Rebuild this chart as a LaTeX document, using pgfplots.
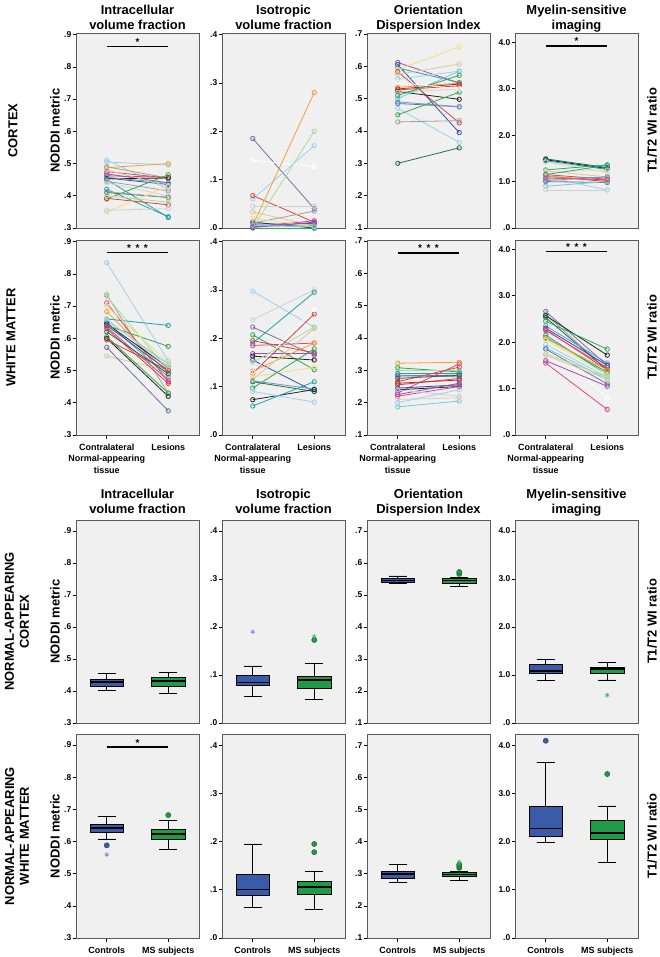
\documentclass[border=0pt]{standalone}
\usepackage{fontspec}
\setmainfont{Liberation Sans}
\usepackage{pgfplots}
\pgfplotsset{compat=1.18}
\usepgfplotslibrary{statistics}

\definecolor{bgg}{HTML}{F0F0F0}
\definecolor{frame}{HTML}{5A5A5A}
\definecolor{lb}{HTML}{9DCFEF}
\definecolor{or}{HTML}{F5A030}
\definecolor{gr}{HTML}{2EA84A}
\definecolor{rd}{HTML}{E0403A}
\definecolor{pu}{HTML}{9B4DB5}
\definecolor{db}{HTML}{2E4FA8}
\definecolor{te}{HTML}{20A0AA}
\definecolor{bk}{HTML}{222222}
\definecolor{gy}{HTML}{A0A0A0}
\definecolor{ye}{HTML}{F0E080}
\definecolor{lg}{HTML}{A9DBA0}
\definecolor{pk}{HTML}{E0458A}
\definecolor{tn}{HTML}{D8C8A0}
\definecolor{sl}{HTML}{7070A8}
\definecolor{dg}{HTML}{1E7040}
\definecolor{wh}{HTML}{FFFFFF}
\definecolor{lgy}{HTML}{D0D0D0}
\definecolor{cy}{HTML}{6FCBD8}
\definecolor{st}{HTML}{6A98C8}
\definecolor{br}{HTML}{B03030}
\definecolor{ol}{HTML}{A0A878}
\definecolor{ctrl}{HTML}{3A5BA8}
\definecolor{ms}{HTML}{1F9A47}
\definecolor{ctrlstar}{HTML}{6A8AD0}
\definecolor{msstar}{HTML}{40B060}

\newcommand{\tfont}{\fontsize{13}{15}\selectfont\bfseries}
\newcommand{\tickf}{\fontsize{8.5}{9}\selectfont\bfseries}
\newcommand{\xtf}{\fontsize{9}{11.5}\selectfont\bfseries}
\newcommand{\starf}{\fontsize{10}{10}\selectfont\bfseries}

% one subject: left value, right value
\newcommand{\pr}[3]{\addplot[#1, line width=0.8pt, mark=o, mark size=2.2bp, mark options={solid}] coordinates {(1,#2) (2,#3)};}
% box: position, colour, lower whisker, q1, median, q3, upper whisker
\newcommand{\bx}[7]{\addplot[boxplot/draw direction=y, boxplot prepared={draw position=#1, lower whisker=#3, lower quartile=#4, median=#5, upper quartile=#6, upper whisker=#7, box extend=0.55, whisker extend=0.3}, draw=black, fill=#2, line width=0.6pt] coordinates {};}
\newcommand{\oc}[3]{\addplot[only marks, mark=*, mark size=2.6bp, mark options={fill=#2, draw=#2!60!black}] coordinates {(#1,#3)};}
\newcommand{\os}[3]{\addplot[only marks, mark=asterisk, mark size=2.4bp, color=#2, line width=0.6pt] coordinates {(#1,#3)};}
% significance bar
\newcommand{\sig}[2]{\addplot[black, line width=1.6pt] coordinates {(1,#1) (2,#1)};
  \node[anchor=base, font=\starf, inner sep=0pt, yshift=1.2bp] at (axis cs:1.5,#1) {#2};}

\pgfplotsset{
  panel/.style={scale only axis, anchor=north west, width=123bp,
    xmin=0.5, xmax=2.5, clip=false,
    axis background/.style={fill=bgg},
    axis line style={draw=frame, line width=1pt},
    tick align=outside, xtick pos=left, ytick pos=left,
    major tick length=3.5bp, every tick/.style={black, line width=0.6pt},
    yticklabel style={font=\tickf, inner sep=1bp},
    xticklabel style={font=\xtf, align=center, inner sep=1bp, yshift=-4bp},
    boxplot/every median/.style={line width=1.6pt},
    xtick=\empty},
  ra/.style={panel, height=195bp},
  rb/.style={panel, height=204bp},
  c1/.style={ymin=0.3, ytick={0.3,0.4,0.5,0.6,0.7,0.8,0.9}, yticklabels={.3,.4,.5,.6,.7,.8,.9}},
  c2/.style={ymin=0, ytick={0,0.1,0.2,0.3,0.4}, yticklabels={.0,.1,.2,.3,.4}},
  c3/.style={ymin=0.1, ytick={0.1,0.2,0.3,0.4,0.5,0.6,0.7}, yticklabels={.1,.2,.3,.4,.5,.6,.7}},
  c4/.style={ymin=0, ytick={0,1,2,3,4}, yticklabels={.0,1.0,2.0,3.0,4.0}},
  xl/.style={xtick={1,2}, xticklabels={{Contralateral\\Normal-appearing\\tissue},Lesions}},
  xb/.style={xtick={1,2}, xticklabels={Controls,MS subjects}},
}

\begin{document}
\begin{tikzpicture}
\useasboundingbox (0,0) rectangle (660bp,-957bp);

% column titles
\foreach \yy/\zz in {14/29, 498/513} {
  \node[font=\tfont, anchor=base] at (137.5bp,-\yy bp) {Intracellular};
  \node[font=\tfont, anchor=base] at (137.5bp,-\zz bp) {volume fraction};
  \node[font=\tfont, anchor=base] at (283.5bp,-\yy bp) {Isotropic};
  \node[font=\tfont, anchor=base] at (283.5bp,-\zz bp) {volume fraction};
  \node[font=\tfont, anchor=base] at (428.5bp,-\yy bp) {Orientation};
  \node[font=\tfont, anchor=base] at (428.5bp,-\zz bp) {Dispersion Index};
  \node[font=\tfont, anchor=base] at (576.5bp,-\yy bp) {Myelin-sensitive};
  \node[font=\tfont, anchor=base] at (576.5bp,-\zz bp) {imaging};
}

% row labels
\node[font=\tfont, rotate=90] at (13bp,-130.5bp) {CORTEX};
\node[font=\tfont, rotate=90] at (11bp,-337.5bp) {WHITE MATTER};
\node[font=\tfont, rotate=90, align=center] at (17bp,-621.5bp) {NORMAL-APPEARING\\CORTEX};
\node[font=\tfont, rotate=90, align=center] at (17bp,-836bp) {NORMAL-APPEARING\\WHITE MATTER};
\foreach \yy in {130.5,337.5,621.5,836} {
  \node[font=\tfont, rotate=90] at (55bp,-\yy bp) {NODDI metric};
  \node[font=\tfont, rotate=90] at (652bp,-\yy bp) {T1/T2 WI ratio};
}

%% ---------- Row 1: cortex ----------
\begin{axis}[ra, c1, at={(76bp,-33bp)}, ymax=0.905]
\pr{lb}{.511}{.420} \pr{lb}{.505}{.495} \pr{or}{.487}{.500} \pr{ol}{.490}{.455}
\pr{pk}{.475}{.455} \pr{pu}{.468}{.440} \pr{rd}{.462}{.457} \pr{db}{.455}{.435}
\pr{bk}{.453}{.455} \pr{te}{.450}{.333} \pr{st}{.457}{.440} \pr{gy}{.445}{.415}
\pr{lgy}{.440}{.400} \pr{te}{.420}{.335} \pr{gr}{.390}{.465} \pr{dg}{.410}{.395}
\pr{gy}{.412}{.395} \pr{rd}{.392}{.372} \pr{ye}{.350}{.430} \pr{lgy}{.355}{.360}
\pr{lg}{.400}{.380} \pr{tn}{.480}{.430}
\sig{.863}{*}
\end{axis}

\begin{axis}[ra, c2, at={(222bp,-33bp)}, ymax=0.403]
\pr{sl}{.185}{.040} \pr{wh}{.140}{.127} \pr{lb}{.060}{.170} \pr{rd}{.067}{.012}
\pr{lgy}{.045}{.045} \pr{tn}{.033}{.005} \pr{bk}{.012}{.000} \pr{or}{.005}{.280}
\pr{lg}{.000}{.200} \pr{te}{.003}{.010} \pr{db}{.008}{.009} \pr{gr}{.000}{.000}
\pr{gy}{.010}{.035} \pr{st}{.004}{.005} \pr{pk}{.002}{.015} \pr{ye}{.020}{.003}
\pr{pu}{.001}{.012} \pr{cy}{.006}{.002}
\end{axis}

\begin{axis}[ra, c3, at={(367bp,-33bp)}, ymax=0.703]
\pr{pu}{.612}{.548} \pr{db}{.605}{.395} \pr{te}{.595}{.550} \pr{ye}{.590}{.660}
\pr{rd}{.583}{.425} \pr{lb}{.560}{.585} \pr{tn}{.575}{.607} \pr{or}{.535}{.548}
\pr{br}{.530}{.545} \pr{rd}{.527}{.540} \pr{bk}{.522}{.498} \pr{lgy}{.520}{.530}
\pr{cy}{.500}{.585} \pr{gr}{.510}{.572} \pr{lb}{.470}{.365} \pr{sl}{.485}{.475}
\pr{st}{.490}{.475} \pr{gr}{.450}{.520} \pr{gy}{.428}{.432} \pr{dg}{.300}{.348}
\pr{wh}{.550}{.530}
\end{axis}

\begin{axis}[ra, c4, at={(515bp,-33bp)}, ymax=4.2]
\pr{dg}{1.49}{1.30} \pr{bk}{1.47}{1.28} \pr{te}{1.45}{1.26} \pr{lgy}{1.42}{1.20}
\pr{gr}{1.25}{1.36} \pr{tn}{1.23}{1.10} \pr{rd}{1.15}{1.05} \pr{br}{1.12}{1.00}
\pr{or}{1.12}{1.02} \pr{lb}{1.10}{0.82} \pr{gy}{1.02}{1.10} \pr{sl}{1.00}{0.98}
\pr{st}{1.05}{1.10} \pr{cy}{0.90}{1.00} \pr{lgy}{0.82}{0.82} \pr{ye}{1.20}{1.25}
\pr{te}{1.15}{1.35} \pr{pk}{1.08}{1.04}
\sig{3.92}{*}
\end{axis}

%% ---------- Row 2: white matter ----------
\begin{axis}[ra, c1, xl, at={(76bp,-240bp)}, ymax=0.905]
\pr{lb}{.835}{.530} \pr{ol}{.735}{.430} \pr{lg}{.730}{.500} \pr{pk}{.710}{.465}
\pr{or}{.683}{.490} \pr{tn}{.545}{.500} \pr{te}{.660}{.640} \pr{cy}{.655}{.520}
\pr{st}{.650}{.480} \pr{bk}{.645}{.510} \pr{gr}{.640}{.575} \pr{db}{.640}{.500}
\pr{rd}{.630}{.460} \pr{pk}{.635}{.470} \pr{gr}{.605}{.430} \pr{bk}{.600}{.420}
\pr{rd}{.595}{.500} \pr{sl}{.572}{.375} \pr{ye}{.700}{.525} \pr{lgy}{.660}{.510}
\pr{dg}{.620}{.490}
\sig{.866}{*\hspace{4.5bp}*\hspace{4.5bp}*}
\end{axis}

\begin{axis}[ra, c2, xl, at={(222bp,-240bp)}, ymax=0.403]
\pr{lb}{.297}{.223} \pr{lgy}{.238}{.300} \pr{sl}{.223}{.165} \pr{gr}{.207}{.135}
\pr{rd}{.195}{.170} \pr{pk}{.185}{.190} \pr{pu}{.168}{.168} \pr{bk}{.163}{.155}
\pr{db}{.155}{.090} \pr{or}{.132}{.190} \pr{rd}{.128}{.250} \pr{te}{.190}{.295}
\pr{ye}{.120}{.140} \pr{gr}{.097}{.178} \pr{dg}{.110}{.090} \pr{st}{.112}{.095}
\pr{bk}{.073}{.094} \pr{te}{.060}{.110} \pr{lb}{.090}{.068} \pr{wh}{.130}{.260}
\pr{lg}{.150}{.223} \pr{tn}{.115}{.220}
\end{axis}

\begin{axis}[ra, c3, xl, at={(367bp,-240bp)}, ymax=0.703]
\pr{or}{.322}{.325} \pr{gr}{.308}{.295} \pr{lg}{.300}{.300} \pr{te}{.290}{.290}
\pr{st}{.285}{.280} \pr{pu}{.282}{.285} \pr{pk}{.230}{.320} \pr{rd}{.265}{.310}
\pr{rd}{.255}{.275} \pr{dg}{.275}{.285} \pr{br}{.260}{.270} \pr{bk}{.240}{.250}
\pr{db}{.245}{.255} \pr{pu}{.225}{.260} \pr{pk}{.220}{.250} \pr{lgy}{.240}{.220}
\pr{lb}{.200}{.240} \pr{cy}{.187}{.205} \pr{lgy}{.210}{.215}
\sig{.663}{*\hspace{4.5bp}*\hspace{4.5bp}*}
\end{axis}

\begin{axis}[ra, c4, xl, at={(515bp,-240bp)}, ymax=4.2]
\pr{sl}{2.66}{1.50} \pr{gy}{2.60}{1.40} \pr{bk}{2.57}{1.72} \pr{dg}{2.53}{1.40}
\pr{gr}{2.45}{1.85} \pr{st}{2.35}{1.55} \pr{db}{2.30}{1.50} \pr{rd}{2.27}{1.40}
\pr{pk}{2.25}{1.45} \pr{wh}{2.00}{0.80} \pr{te}{2.15}{1.30} \pr{gr}{2.10}{1.35}
\pr{or}{2.08}{1.40} \pr{ye}{2.05}{1.30} \pr{lb}{1.95}{1.25} \pr{cy}{1.88}{1.20}
\pr{sl}{1.85}{1.10} \pr{lg}{1.75}{1.25} \pr{tn}{1.72}{1.20} \pr{pu}{1.60}{1.05}
\pr{pk}{1.55}{0.55}
\sig{3.95}{*\hspace{4.5bp}*\hspace{4.5bp}*}
\end{axis}

%% ---------- Row 3: normal-appearing cortex ----------
\begin{axis}[rb, c1, at={(76bp,-520bp)}, height=203bp, ymax=0.934]
\bx{1}{ctrl}{.402}{.416}{.428}{.437}{.455}
\bx{2}{ms}{.393}{.414}{.431}{.442}{.458}
\end{axis}

\begin{axis}[rb, c2, at={(222bp,-520bp)}, height=203bp, ymax=0.423]
\bx{1}{ctrl}{.056}{.079}{.084}{.100}{.119}
\bx{2}{ms}{.050}{.073}{.090}{.098}{.124}
\os{1}{ctrlstar}{.190}
\oc{2}{ms}{.173}
\os{2}{msstar}{.180}
\end{axis}

\begin{axis}[rb, c3, at={(367bp,-520bp)}, height=203bp, ymax=0.7345]
\bx{1}{ctrl}{.536}{.540}{.545}{.553}{.560}
\bx{2}{ms}{.528}{.538}{.545}{.551}{.556}
\oc{2}{ms}{.566}
\oc{2}{ms}{.572}
\end{axis}

\begin{axis}[rb, c4, at={(515bp,-520bp)}, height=203bp, ymax=4.23]
\bx{1}{ctrl}{0.88}{1.03}{1.08}{1.23}{1.33}
\bx{2}{ms}{0.90}{1.03}{1.12}{1.17}{1.26}
\os{2}{msstar}{0.58}
\end{axis}

%% ---------- Row 4: normal-appearing white matter ----------
\begin{axis}[rb, c1, xb, at={(76bp,-734bp)}, ymax=0.934]
\bx{1}{ctrl}{.608}{.629}{.642}{.652}{.679}
\bx{2}{ms}{.575}{.608}{.624}{.637}{.666}
\oc{1}{ctrl}{.588}
\os{1}{ctrlstar}{.559}
\oc{2}{ms}{.682}
\sig{.893}{*}
\end{axis}

\begin{axis}[rb, c2, xb, at={(222bp,-734bp)}, ymax=0.423]
\bx{1}{ctrl}{.064}{.088}{.101}{.133}{.195}
\bx{2}{ms}{.060}{.091}{.106}{.117}{.138}
\oc{2}{ms}{.178}
\oc{2}{ms}{.195}
\end{axis}

\begin{axis}[rb, c3, xb, at={(367bp,-734bp)}, ymax=0.7345]
\bx{1}{ctrl}{.273}{.286}{.299}{.309}{.330}
\bx{2}{ms}{.280}{.293}{.298}{.303}{.306}
\oc{2}{ms}{.318}
\oc{2}{ms}{.324}
\oc{2}{ms}{.329}
\os{2}{msstar}{.337}
\end{axis}

\begin{axis}[rb, c4, xb, at={(515bp,-734bp)}, ymax=4.23]
\bx{1}{ctrl}{1.98}{2.11}{2.27}{2.74}{3.64}
\bx{2}{ms}{1.57}{2.05}{2.18}{2.44}{2.74}
\oc{1}{ctrl}{4.09}
\oc{2}{ms}{3.40}
\end{axis}
\end{tikzpicture}
\end{document}
